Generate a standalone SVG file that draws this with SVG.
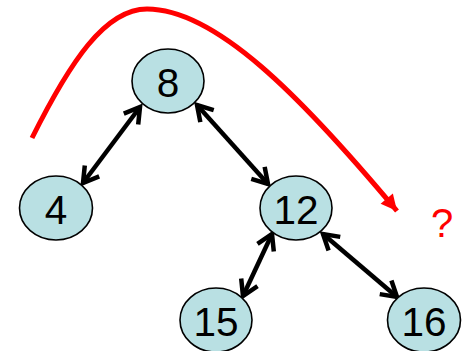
<svg xmlns="http://www.w3.org/2000/svg" width="462" height="351" viewBox="0 0 462 351">
<style>
.node ellipse{fill:#b9e0e3;stroke:#000;stroke-width:1.6}
.node text{font-family:"Liberation Sans",Arial,sans-serif;font-size:40.5px;text-anchor:middle;fill:#000}
.edge{stroke:#000;stroke-width:4.5;fill:none;marker-start:url(#bk);marker-end:url(#bk)}
</style>
<defs>
<marker id="bk" markerUnits="userSpaceOnUse" markerWidth="30" markerHeight="30" viewBox="-20 -15 30 30" refX="0" refY="0" orient="auto-start-reverse">
<path d="M-15,-9 L0,0 L-15,9" fill="none" stroke="#000" stroke-width="4.5" stroke-linejoin="miter"/>
</marker>
<marker id="rd" markerUnits="userSpaceOnUse" markerWidth="30" markerHeight="30" viewBox="-20 -15 30 30" refX="0" refY="0" orient="auto">
<path d="M-16,-8 L0,0 L-16,8 Z" fill="#ff0000"/>
</marker>
</defs>
<g id="connectors">
<line class="edge" x1="140" y1="107" x2="83" y2="183"/>
<line class="edge" x1="197" y1="105" x2="268" y2="184"/>
<line class="edge" x1="272" y1="234" x2="243" y2="296"/>
<line class="edge" x1="323" y1="234" x2="397" y2="297"/>
<path id="traversal" d="M32,138 C70,62 105,9 147,9 C215,9 300,95 397,211" fill="none" stroke="#ff0000" stroke-width="5" marker-end="url(#rd)"/>
</g>
<g id="n8" class="node"><ellipse cx="168" cy="81" rx="36" ry="32"/><text x="168" y="97">8</text></g>
<g id="n4" class="node"><ellipse cx="56" cy="208" rx="36.5" ry="32"/><text x="56" y="224">4</text></g>
<g id="n12" class="node"><ellipse cx="296" cy="208" rx="36" ry="32"/><text x="296" y="224">12</text></g>
<g id="n15" class="node"><ellipse cx="216" cy="320" rx="36" ry="32"/><text x="216" y="336">15</text></g>
<g id="n16" class="node"><ellipse cx="424" cy="320" rx="36.5" ry="32"/><text x="424" y="336">16</text></g>
<text id="q" x="442" y="237" font-family="Liberation Sans,Arial,sans-serif" font-size="40" fill="#ff0000" text-anchor="middle">?</text>
</svg>
